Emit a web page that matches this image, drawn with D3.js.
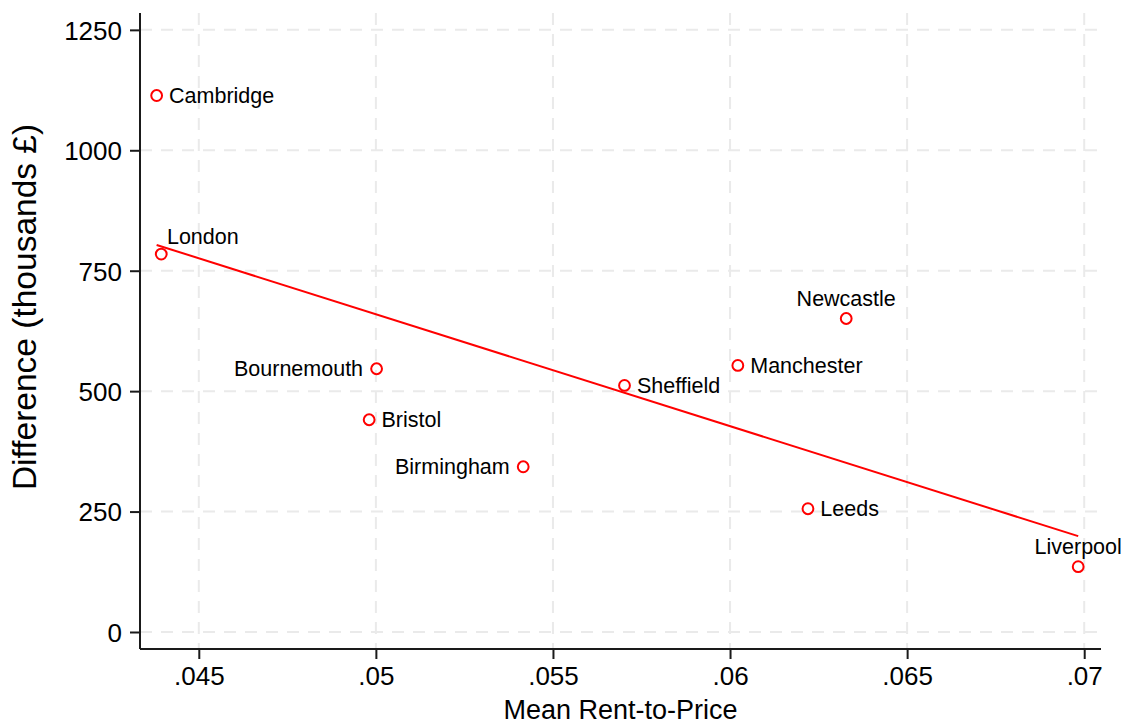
<!DOCTYPE html>
<html>
<head>
<meta charset="utf-8">
<script src="https://cdn.jsdelivr.net/npm/d3@7"></script>
<style>
  html, body { margin: 0; padding: 0; background: #fff; }
  svg { display: block; font-family: "Liberation Sans", Arial, sans-serif; }
</style>
</head>
<body>
<svg id="chart" width="1123" height="725"></svg>
<script>
// ---- data ----
const cities = ["Cambridge", "London", "Bournemouth", "Bristol", "Birmingham", "Sheffield", "Manchester", "Newcastle", "Leeds", "Liverpool"];
const rentToPrice = [0.04381, 0.04394, 0.05002, 0.04981, 0.05416, 0.05702, 0.06022, 0.06328, 0.06220, 0.06983];
const difference = [1113.7, 784.5, 546.5, 440.6, 343.0, 511.8, 553.3, 650.8, 255.9, 135.5];
const xTicks = [0.045, 0.05, 0.055, 0.06, 0.065, 0.07];
const xTickLabels = [".045", ".05", ".055", ".06", ".065", ".07"];
const yTicks = [0, 250, 500, 750, 1000, 1250];
const yTickLabels = ["0", "250", "500", "750", "1000", "1250"];

(function () {
// label clock positions (Stata-style)
const labelClock = { Cambridge: 3, London: 1, Bournemouth: 9, Bristol: 3, Birmingham: 9, Sheffield: 3, Manchester: 3, Newcastle: 12, Leeds: 3, Liverpool: 12 };

const svg = d3.select("#chart");
const pL = 140, pR = 1101, pT = 13, pB = 649;

const x = d3.scaleLinear().domain([0.04334, 0.070474]).range([pL, pR]);
const y = d3.scaleLinear().domain([-35.3, 1285]).range([pB, pT]);

const gridColor = "#eaeaea";
const red = "#ff0000";

// grid
const grid = svg.append("g");
grid.selectAll("line.v").data(xTicks).join("line").attr("class", "v")
  .attr("x1", d => x(d)).attr("x2", d => x(d))
  .attr("y1", pT).attr("y2", pB)
  .attr("stroke", gridColor).attr("stroke-width", 2).attr("stroke-dasharray", "12,9");
grid.selectAll("line.h").data(yTicks).join("line").attr("class", "h")
  .attr("x1", pL).attr("x2", pR)
  .attr("y1", d => y(d)).attr("y2", d => y(d))
  .attr("stroke", gridColor).attr("stroke-width", 2).attr("stroke-dasharray", "12,9");

// axes
const xAxis = d3.axisBottom(x).tickValues(xTicks).tickFormat((d, i) => xTickLabels[i]).tickSize(10).tickPadding(8).tickSizeOuter(0);
const yAxis = d3.axisLeft(y).tickValues(yTicks).tickFormat((d, i) => yTickLabels[i]).tickSize(10).tickPadding(8).tickSizeOuter(0);

const gx = svg.append("g").attr("transform", `translate(0,${pB})`).call(xAxis);
const gy = svg.append("g").attr("transform", `translate(${pL},0)`).call(yAxis);
[gx, gy].forEach(g => {
  g.select(".domain").attr("stroke", "#1a1a1a").attr("stroke-width", 2);
  g.selectAll(".tick line").attr("stroke", "#1a1a1a").attr("stroke-width", 2);
  g.selectAll(".tick text").attr("fill", "#000").style("font-size", "26px").style("font-family", "'Liberation Sans', Arial, sans-serif");
});
gx.select(".domain").attr("d", `M${pL},0H${pR}`);
gy.select(".domain").attr("d", `M0,${pT}V${pB}`);
gx.selectAll(".tick text").attr("dy", null).attr("y", 36);
gy.selectAll(".tick text").attr("dy", "0.36em");

// regression line (OLS fit)
const n = rentToPrice.length;
const mx = d3.mean(rentToPrice), my = d3.mean(difference);
let sxy = 0, sxx = 0;
for (let i = 0; i < n; i++) { sxy += (rentToPrice[i] - mx) * (difference[i] - my); sxx += (rentToPrice[i] - mx) ** 2; }
const b = sxy / sxx, a = my - b * mx;
const xMin = d3.min(rentToPrice), xMax = d3.max(rentToPrice);
svg.append("line")
  .attr("x1", x(xMin)).attr("y1", y(a + b * xMin))
  .attr("x2", x(xMax)).attr("y2", y(a + b * xMax))
  .attr("stroke", red).attr("stroke-width", 2);

// points
const pts = cities.map((c, i) => ({ c, xv: rentToPrice[i], yv: difference[i] }));
svg.append("g").selectAll("circle").data(pts).join("circle")
  .attr("cx", d => x(d.xv)).attr("cy", d => y(d.yv)).attr("r", 5.4)
  .attr("fill", "none").attr("stroke", red).attr("stroke-width", 2);

// labels
const fs = 21.5;
svg.append("g").selectAll("text").data(pts).join("text")
  .attr("x", d => {
    const cx = x(d.xv), p = labelClock[d.c];
    if (p === 3) return cx + 12.4;
    if (p === 9) return cx - 13.5;
    if (p === 1) return cx + 5.7;
    return cx;
  })
  .attr("y", d => {
    const cy = y(d.yv), p = labelClock[d.c];
    if (p === 3 || p === 9) return cy + 7.6;
    if (p === 1) return cy - 10;
    return cy - 12.5;
  })
  .attr("text-anchor", d => {
    const p = labelClock[d.c];
    if (p === 9) return "end";
    if (p === 12) return "middle";
    return "start";
  })
  .style("font-size", fs + "px").attr("fill", "#000")
  .text(d => d.c);

// axis titles
svg.append("text").attr("x", (pL + pR) / 2).attr("y", 719)
  .attr("text-anchor", "middle").style("font-size", "27px").attr("fill", "#000")
  .text("Mean Rent-to-Price");
svg.append("text").attr("transform", `translate(36,${307}) rotate(-90)`)
  .attr("text-anchor", "middle").style("font-size", "33.5px").attr("fill", "#000")
  .text("Difference (thousands £)");
})();
</script>
</body>
</html>
